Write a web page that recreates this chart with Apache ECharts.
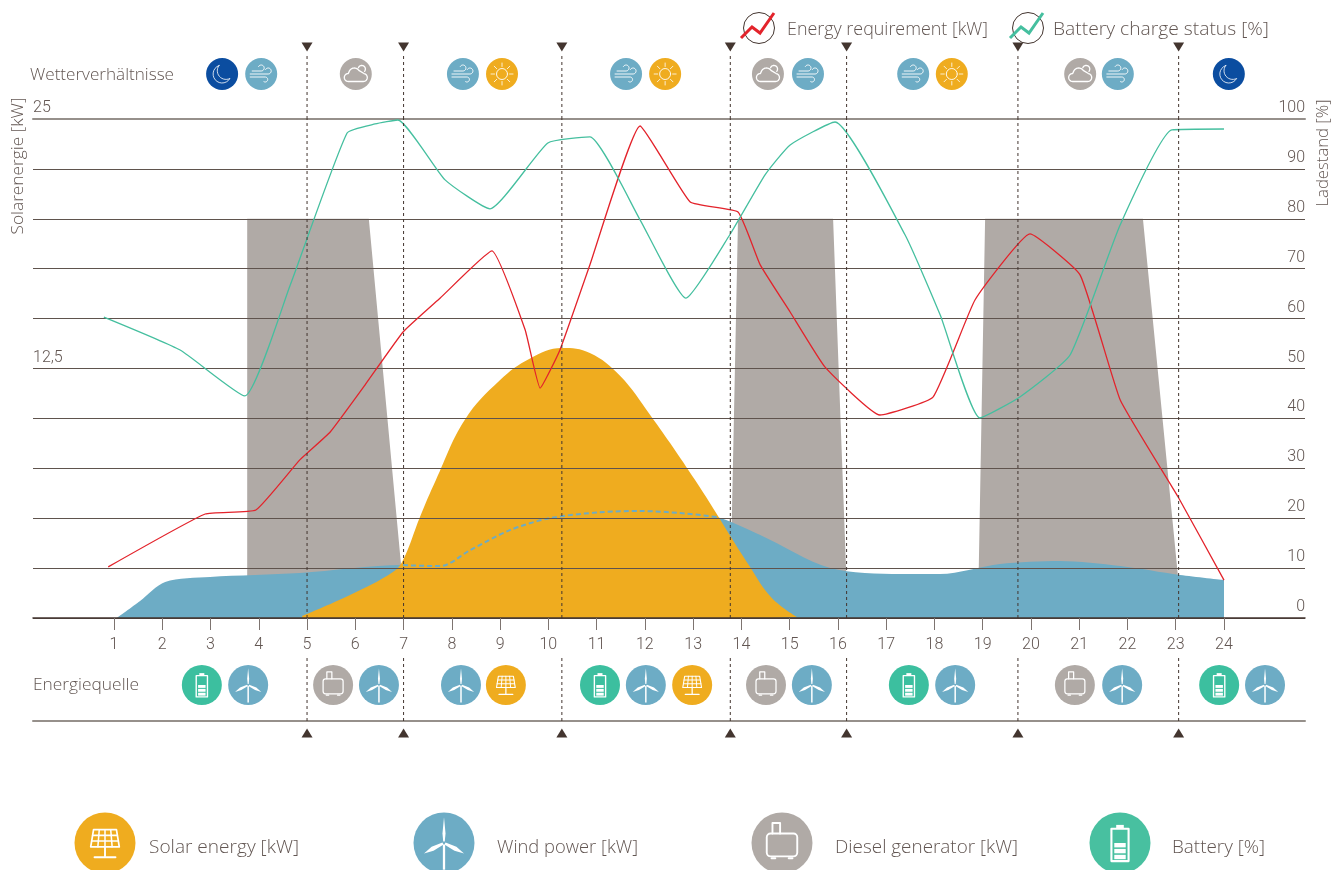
<!DOCTYPE html>
<html>
<head>
<meta charset="utf-8">
<title>Energy chart</title>
<script src="https://cdn.jsdelivr.net/npm/echarts@6/dist/echarts.min.js"></script>
<style>
  html, body { margin: 0; padding: 0; background: #fff; }
  #chart { width: 1342px; height: 870px; }
</style>
</head>
<body>
<div id="chart"></div>
<script>
// values, x is the hour on the 1..24 axis
const hours = [1,2,3,4,5,6,7,8,9,10,11,12,13,14,15,16,17,18,19,20,21,22,23,24];
const percentTicks = [0,10,20,30,40,50,60,70,80,90,100];
const kwTicks = [12.5, 25];

const requirementX = [0.88,2.89,3.94,4.85,5.48,6.2,6.99,7.76,8.83,9.52,9.83,10.24,10.86,11.9,12.94,13.93,14.39,15.01,15.73,16.87,17.97,18.84,19.98,21.02,21.85,23.05,24];
const requirementKw = [2.56,5.21,5.41,7.92,9.32,11.67,14.33,16.03,18.39,14.43,11.52,13.43,17.69,24.65,20.84,20.34,17.69,15.33,12.58,10.17,11.07,15.93,19.24,17.18,10.92,6.06,1.9];

const batteryX = [0.79,2.37,3.71,4.65,5.83,6.41,6.88,7.86,8.79,9.99,10.86,11.9,12.85,13.76,14.49,15.01,15.94,17.39,18.12,18.94,19.77,20.81,21.85,22.92,24];
const batteryPct = [60.3,53.7,44.5,66.7,97.2,99,99.8,87.8,82,95.2,96.4,79.8,64.1,76.8,88.8,94.8,99.4,76.8,60.7,40.1,44.3,52.7,78.8,97.8,98];

const solarX = [4.9,5.89,6.78,6.99,7.34,7.67,8.27,9,9.62,10.28,10.86,11.48,12.11,13.04,14.18,14.63,15.15];
const solarKw = [0.1,1.15,2.3,2.9,5.06,6.91,9.93,11.92,13,13.53,13.28,12.15,10.17,6.91,2.55,1,0.05];

const windX = [1.06,1.54,2.06,2.99,4.85,6.99,7.76,8.38,9.2,10.03,11.07,11.9,12.73,13.49,14.39,15.84,17.29,18.12,19.36,20.6,21.85,23.09,24];
const windKw = [0,0.85,1.8,2.05,2.25,2.65,2.6,3.4,4.4,5,5.3,5.36,5.26,5.06,4.16,2.5,2.2,2.2,2.7,2.85,2.6,2.15,1.9];

const dieselX = [3.76,3.76,6.28,6.95,6.98,null,13.76,13.93,15.9,16.17,16.2,null,18.9,19.05,22.32,23.05,23.08];
const dieselKw = [0,20,20,2.6,0,null,0,20,20,2.4,0,null,0,20,20,2,0];

const switchHours = [5,7,10.28,13.77,16.18,19.73,23.06];

const weatherX = [3.24,4.05,6.01,8.23,9.04,11.61,12.42,14.55,15.38,17.56,18.36,21.02,21.8,24.1];
const weatherKind = ['moon','wind','cloud','wind','sun','wind','sun','cloud','wind','wind','sun','cloud','wind','moon'];

const sourceX = [2.82,3.78,5.54,6.49,8.19,9.12,11.07,12.02,12.98,14.51,15.46,17.47,18.43,20.91,21.89,23.9,24.85];
const sourceKind = ['battery','turbine','diesel','turbine','turbine','solar','battery','turbine','solar','diesel','turbine','battery','turbine','diesel','turbine','battery','turbine'];

const FONT = 'Roboto';
const LABEL_FONT = '"Open Sans"';
const TEXT = '#625652';
const DARK = '#43352f';
const ORANGE = '#efac1f';
const BLUE = '#6dacc5';
const GREY = '#b0aaa6';
const NAVY = '#0b4da0';
const GREEN = '#3cbf9f';
const RED = '#e3232b';

const xMin = 1 - (114 - 33) / 48.26;
const xMax = 24 + (1305 - 1224) / 48.26;

function zip(xs, ys) {
  return xs.map((x, i) => [x, ys[i]]);
}

function arcPts(cx, cy, r, a0, a1) {
  const pts = [];
  for (let i = 0; i <= 14; i++) {
    const a = (a0 + (a1 - a0) * i / 14) * Math.PI / 180;
    pts.push([cx + r * Math.cos(a), cy + r * Math.sin(a)]);
  }
  return pts;
}

const stroke = (w) => ({ fill: 'none', stroke: '#fff', lineWidth: w, lineJoin: 'round', lineCap: 'round' });
const white = { fill: '#fff' };

function glyph(kind) {
  if (kind === 'moon') {
    return [{ type: 'polygon', shape: { points: arcPts(0, 0, 9, 250, 30).concat(arcPts(3.9, -3.3, 8.7, 63, 217)) }, style: stroke(0.8) }];
  }
  if (kind === 'wind') {
    return [
      { type: 'polyline', shape: { points: [[-11, 0]].concat(arcPts(7, -3, 3, 90, -150)) }, style: stroke(0.9) },
      { type: 'polyline', shape: { points: [[-9, -3]].concat(arcPts(0, -6, 3, 90, -150)) }, style: stroke(0.9) },
      { type: 'polyline', shape: { points: [[-11, 3]].concat(arcPts(4, 5.5, 2.5, -90, 120)) }, style: stroke(0.9) }
    ];
  }
  if (kind === 'cloud') {
    const front = arcPts(-7.5, 3.5, 4, 90, 270)
      .concat(arcPts(-1.5, -0.5, 5.5, 200, 325))
      .concat(arcPts(7.5, 3.5, 4, -80, 90));
    const back = arcPts(6, -5, 3.6, 200, 400);
    return [
      { type: 'polygon', shape: { points: front }, style: stroke(1.3) },
      { type: 'polyline', shape: { points: back }, style: stroke(1.3) }
    ];
  }
  if (kind === 'sun') {
    const out = [{ type: 'circle', shape: { cx: 0, cy: 0, r: 5.5 }, style: stroke(0.9) }];
    for (let i = 0; i < 8; i++) {
      const a = i * Math.PI / 4;
      out.push({ type: 'line', shape: { x1: 7.5 * Math.cos(a), y1: 7.5 * Math.sin(a), x2: 11 * Math.cos(a), y2: 11 * Math.sin(a) }, style: stroke(0.8) });
    }
    return out;
  }
  if (kind === 'turbine') {
    return [
      { type: 'polygon', shape: { points: [[0, -13.5], [0.8, -5], [0.4, -0.8], [-0.4, -0.8], [-0.8, -5]] }, style: white },
      { type: 'polygon', shape: { points: [[-0.6, 0.8], [0.6, 0.8], [0.6, 14], [-0.6, 14]] }, style: white },
      { type: 'polygon', shape: { points: [[-0.8, -0.3], [-0.2, 0.8], [-5.5, 4], [-10.5, 5.5], [-6.5, 2]] }, style: white },
      { type: 'polygon', shape: { points: [[0.8, -0.3], [0.2, 0.8], [5.5, 4], [10.5, 5.5], [6.5, 2]] }, style: white }
    ];
  }
  if (kind === 'solar') {
    const out = [{ type: 'polygon', shape: { points: [[-6, -7], [6, -7], [7.5, 2], [-7.5, 2]] }, style: stroke(0.9) }];
    for (let i = 1; i < 4; i++) {
      const t = i / 4;
      out.push({ type: 'line', shape: { x1: -6 + 12 * t, y1: -7, x2: -7.5 + 15 * t, y2: 2 }, style: stroke(0.8) });
    }
    [-4, -1].forEach((y) => {
      const w = 6 + (y + 7) / 9 * 1.5;
      out.push({ type: 'line', shape: { x1: -w, y1: y, x2: w, y2: y }, style: stroke(0.8) });
    });
    out.push({ type: 'line', shape: { x1: 0, y1: 2, x2: 0, y2: 7 }, style: stroke(1) });
    out.push({ type: 'line', shape: { x1: -5.5, y1: 7.5, x2: 5.5, y2: 7.5 }, style: stroke(1) });
    return out;
  }
  if (kind === 'diesel') {
    return [
      { type: 'rect', shape: { x: -8, y: -5, width: 16, height: 12, r: 2 }, style: stroke(1) },
      { type: 'polyline', shape: { points: [[-5, -5], [-5, -10.5], [-1, -10.5], [-1, -5]] }, style: stroke(1) },
      { type: 'line', shape: { x1: -5.5, y1: 8, x2: -3.5, y2: 8 }, style: stroke(1) },
      { type: 'line', shape: { x1: 3.5, y1: 8, x2: 5.5, y2: 8 }, style: stroke(1) }
    ];
  }
  // battery
  return [
    { type: 'rect', shape: { x: -4.5, y: -7.5, width: 9, height: 17 }, style: stroke(1.1) },
    { type: 'rect', shape: { x: -2, y: -9.5, width: 4, height: 2 }, style: white },
    { type: 'rect', shape: { x: -3, y: 0, width: 6, height: 2.3 }, style: white },
    { type: 'rect', shape: { x: -3, y: 3.1, width: 6, height: 2.3 }, style: white },
    { type: 'rect', shape: { x: -3, y: 6.2, width: 6, height: 2.3 }, style: white }
  ];
}

const iconColor = { moon: NAVY, wind: BLUE, cloud: GREY, sun: ORANGE, turbine: BLUE, solar: ORANGE, diesel: GREY, battery: GREEN };

function icon(kind, x, y, r, color) {
  return {
    type: 'group',
    x: x,
    y: y,
    children: [{ type: 'circle', shape: { cx: 0, cy: 0, r: r }, style: { fill: color || iconColor[kind] } }].concat([{
      type: 'group',
      scaleX: r / 16,
      scaleY: r / 16,
      children: glyph(kind)
    }])
  };
}

function triangle(x, y, dir) {
  return { type: 'polygon', shape: { points: [[x - 5.5, y - 4.5 * dir], [x + 5.5, y - 4.5 * dir], [x, y + 4.5 * dir]] }, style: { fill: DARK } };
}

function dash(x, y1, y2) {
  return { type: 'line', shape: { x1: x, y1: y1, x2: x, y2: y2 }, style: { stroke: DARK, lineWidth: 1, lineDash: [3, 3] } };
}

// the original face is spaced wider than any installed one, so stretch to the measured width
const measureCtx = document.createElement('canvas').getContext('2d');
function fit(text, font, width) {
  measureCtx.font = font;
  return width / measureCtx.measureText(text).width;
}

function label(text, x, y, width, size) {
  const font = '300 ' + size + 'px ' + LABEL_FONT;
  return {
    type: 'text',
    x: x,
    y: y,
    scaleX: fit(text, font, width),
    style: { text: text, fill: TEXT, font: font, verticalAlign: 'middle' }
  };
}

function sideLabel(text, x, y, width) {
  const font = '300 16px ' + LABEL_FONT;
  return {
    type: 'text',
    x: x,
    y: y,
    rotation: Math.PI / 2,
    scaleX: fit(text, font, width),
    style: { text: text, fill: TEXT, font: font, align: 'center', verticalAlign: 'middle' }
  };
}

function legendMark(cx, color) {
  return {
    type: 'group',
    children: [
      { type: 'circle', shape: { cx: cx, cy: 28, r: 15.5 }, style: { fill: 'none', stroke: DARK, lineWidth: 1 } },
      { type: 'polyline', shape: { points: [[cx - 18, 38], [cx - 7, 27], [cx + 1, 33], [cx + 15, 13]] }, style: { fill: 'none', stroke: color, lineWidth: 3 } }
    ]
  };
}

const chart = echarts.init(document.getElementById('chart'));

const option = {
  animation: false,
  backgroundColor: '#fff',
  grid: [
    { left: 33, top: 119, width: 1272, height: 499 },
    { left: 33, top: 29, width: 1272, height: 90 },
    { left: 33, top: 649, width: 1272, height: 72 }
  ],
  xAxis: [
    {
      type: 'value', gridIndex: 0, min: xMin, max: xMax, z: 3,
      splitLine: { show: false },
      axisLine: { lineStyle: { color: DARK, width: 1.5 } },
      axisTick: { length: 12, lineStyle: { color: '#7d7470' }, customValues: hours },
      axisLabel: { customValues: hours, color: TEXT, fontFamily: FONT, fontWeight: 300, fontSize: 16, margin: 19 }
    },
    {
      type: 'value', gridIndex: 1, min: xMin, max: xMax, z: 3,
      splitLine: { show: false }, axisTick: { show: false }, axisLabel: { show: false },
      axisLine: { lineStyle: { color: '#96908b', width: 2 } }
    },
    {
      type: 'value', gridIndex: 2, min: xMin, max: xMax,
      splitLine: { show: false }, axisTick: { show: false }, axisLabel: { show: false },
      axisLine: { lineStyle: { color: '#96908b', width: 2 } }
    }
  ],
  yAxis: [
    {
      type: 'value', gridIndex: 0, min: 0, max: 25, interval: 2.5, z: 3,
      axisLine: { show: false }, axisTick: { show: false },
      splitLine: { lineStyle: { color: '#5f534d', width: 1 } },
      axisLabel: {
        customValues: kwTicks, inside: true, margin: 0, color: TEXT, fontFamily: FONT, fontWeight: 300, fontSize: 16,
        verticalAlign: 'bottom', padding: [0, 0, 3, 0],
        formatter: (v) => String(v).replace('.', ',')
      }
    },
    {
      type: 'value', gridIndex: 0, min: 0, max: 100, interval: 10, position: 'right', z: 3,
      axisLine: { show: false }, axisTick: { show: false }, splitLine: { show: false },
      axisLabel: {
        customValues: percentTicks, inside: true, margin: 0, color: TEXT, fontFamily: FONT, fontWeight: 300, fontSize: 16,
        verticalAlign: 'bottom', padding: [0, 0, 3, 0]
      }
    },
    { type: 'value', gridIndex: 1, min: 0, max: 1, show: false },
    { type: 'value', gridIndex: 2, min: 0, max: 1, show: false }
  ],
  series: [
    {
      name: 'Diesel generator [kW]', type: 'line', xAxisIndex: 0, yAxisIndex: 0,
      data: zip(dieselX, dieselKw), showSymbol: false, connectNulls: false,
      lineStyle: { width: 0 }, areaStyle: { color: GREY, opacity: 1 }, itemStyle: { color: GREY }, z: 2
    },
    {
      name: 'Wind power [kW]', type: 'line', xAxisIndex: 0, yAxisIndex: 0,
      data: zip(windX, windKw), showSymbol: false, smooth: 0.3,
      lineStyle: { width: 0 }, areaStyle: { color: BLUE, opacity: 1 }, itemStyle: { color: BLUE }, z: 2
    },
    {
      name: 'Solar energy [kW]', type: 'line', xAxisIndex: 0, yAxisIndex: 0,
      data: zip(solarX, solarKw), showSymbol: false, smooth: 0.4,
      lineStyle: { width: 0 }, areaStyle: { color: ORANGE, opacity: 1 }, itemStyle: { color: ORANGE }, z: 2
    },
    {
      // wind hidden behind the solar area is shown dashed
      name: 'Wind dashed', type: 'line', xAxisIndex: 0, yAxisIndex: 0,
      data: zip(windX, windKw).slice(5, 14), showSymbol: false, smooth: 0.3,
      lineStyle: { color: BLUE, width: 2, type: [5, 3] }, z: 2
    },
    {
      name: 'Energy requirement [kW]', type: 'line', xAxisIndex: 0, yAxisIndex: 0,
      data: zip(requirementX, requirementKw), showSymbol: false, smooth: 0.12,
      lineStyle: { color: RED, width: 1.3 }, itemStyle: { color: RED }, z: 4
    },
    {
      name: 'Battery charge status [%]', type: 'line', xAxisIndex: 0, yAxisIndex: 1,
      data: zip(batteryX, batteryPct), showSymbol: false, smooth: 0.15,
      lineStyle: { color: '#45bf9f', width: 1.3 }, itemStyle: { color: '#45bf9f' }, z: 4
    },
    {
      name: 'switch main', type: 'custom', xAxisIndex: 0, yAxisIndex: 1, z: 5,
      data: switchHours.map((h) => [h, 0]),
      renderItem: (params, api) => {
        const a = api.coord([api.value(0), 0]);
        const b = api.coord([api.value(0), 100]);
        return dash(a[0], a[1], b[1]);
      }
    },
    {
      name: 'switch top', type: 'custom', xAxisIndex: 1, yAxisIndex: 2, z: 5,
      data: switchHours.map((h) => [h, 0]),
      renderItem: (params, api) => {
        const a = api.coord([api.value(0), 0]);
        return { type: 'group', children: [dash(a[0], a[1], 53), triangle(a[0], 47, 1)] };
      }
    },
    {
      name: 'switch bottom', type: 'custom', xAxisIndex: 2, yAxisIndex: 3, z: 1,
      data: switchHours.map((h) => [h, 0]),
      renderItem: (params, api) => {
        const a = api.coord([api.value(0), 0]);
        return { type: 'group', children: [dash(a[0], a[1], 655), triangle(a[0], a[1] + 12, -1)] };
      }
    },
    {
      name: 'Wetterverhältnisse', type: 'custom', xAxisIndex: 1, yAxisIndex: 2, z: 6,
      data: weatherX.map((x) => [x, 0.5]),
      renderItem: (params, api) => {
        const c = api.coord([api.value(0), api.value(1)]);
        return icon(weatherKind[params.dataIndex], c[0], c[1], 16);
      }
    },
    {
      name: 'Energiequelle', type: 'custom', xAxisIndex: 2, yAxisIndex: 3, z: 6,
      data: sourceX.map((x) => [x, 0.5]),
      renderItem: (params, api) => {
        const c = api.coord([api.value(0), api.value(1)]);
        return icon(sourceKind[params.dataIndex], c[0], c[1], 20);
      }
    }
  ],
  graphic: [
    label('Wetterverhältnisse', 30, 75, 144, 17),
    label('Energiequelle', 33, 685, 106, 17),
    sideLabel('Solarenergie [kW]', 18, 166, 137),
    sideLabel('Ladestand [%]', 1323, 153, 107),
    legendMark(759, RED),
    label('Energy requirement [kW]', 787, 30, 201, 18),
    legendMark(1028, '#45bf9f'),
    label('Battery charge status [%]', 1053, 30, 216, 18),
    icon('solar', 105, 843, 30.5),
    label('Solar energy [kW]', 149, 848, 150, 18),
    icon('turbine', 444, 843, 30.5),
    label('Wind power [kW]', 497, 848, 141, 18),
    icon('diesel', 782, 843, 30.5),
    label('Diesel generator [kW]', 835, 848, 183, 18),
    icon('battery', 1120, 843, 30.5, '#48c0a0'),
    label('Battery [%]', 1172, 848, 93, 18)
  ]
};

chart.setOption(option);
</script>
</body>
</html>
